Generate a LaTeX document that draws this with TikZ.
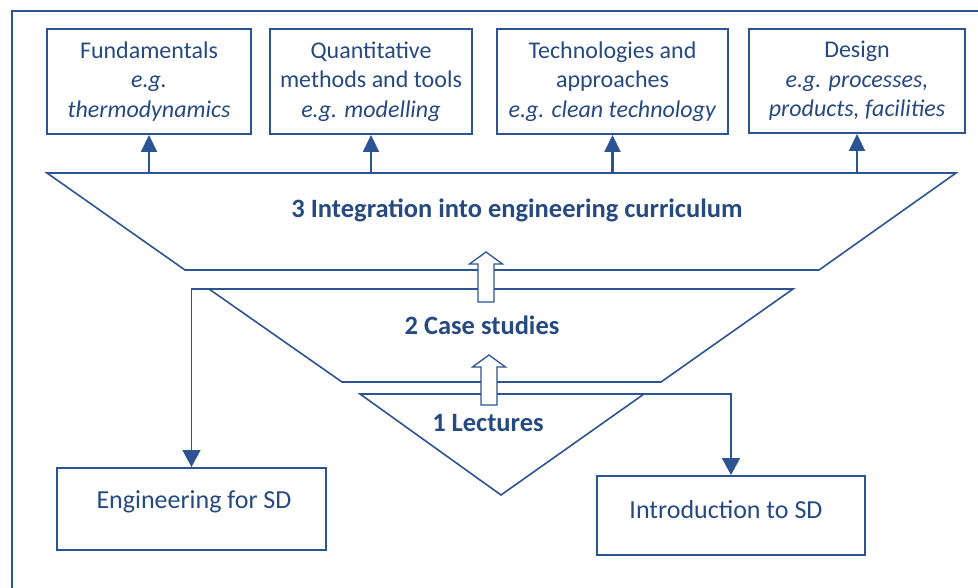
\documentclass[tikz,border=0pt]{standalone}
\usepackage{fontspec}
\setmainfont{Carlito}
\usetikzlibrary{arrows.meta}
\definecolor{sdblue}{RGB}{44,84,146}
\definecolor{sdtext}{RGB}{38,74,128}
\begin{document}
\begin{tikzpicture}
[x=1pt,y=-1pt,
  topbox/.style={shape=rectangle,draw=sdblue,line width=2pt,inner sep=0pt,align=center,
    text=sdtext,font=\fontsize{24}{29.5}\selectfont},
  lowbox/.style={shape=rectangle,draw=sdblue,line width=2pt,inner sep=0pt,
    text=sdtext,font=\fontsize{26}{30}\selectfont},
  stage/.style={text=sdtext,font=\fontsize{26.5}{30}\selectfont\bfseries,inner sep=0pt},
  outline/.style={draw=sdblue,line width=1.6pt,line join=miter},
  blockarrow/.style={draw=sdblue,fill=white,line width=1.3pt},
  uparrow/.style={-{Triangle[width=16pt,length=17pt]},draw=sdblue,line width=2.2pt},
  downarrow/.style={-{Triangle[width=18pt,length=17pt]},draw=sdblue,line width=1.6pt}]
\useasboundingbox (0,0) rectangle (978,588);
% frame
\draw[outline,line width=2pt] (12,588) -- (12,11) -- (978,11);
% stages
\draw[outline] (47,173) -- (956,173) -- (819,270) -- (185,270) -- cycle;
\draw[outline] (209,289) -- (793,289) -- (661,382) -- (342,382) -- cycle;
\draw[outline] (360,394) -- (644,394) -- (501,495) -- cycle;
\coordinate (top3) at (0,173);
\coordinate (corner2) at (209,289);
\coordinate (corner1) at (644,394);
% boxes
\node (fund) at (149,81.5) [topbox,minimum width=204,minimum height=105]
  {Fundamentals\\ \textit{e.g.}\\ \textit{thermodynamics}};
\node (quant) at (371,81.5) [topbox,minimum width=202,minimum height=105]
  {Quantitative\\ methods and tools\\ \textit{e.g. modelling}};
\node (tech) at (612.5,81.5) [topbox,minimum width=231,minimum height=105]
  {Technologies and\\ approaches\\ \textit{e.g. clean technology}};
\node (design) at (857,81) [topbox,minimum width=216,minimum height=104]
  {Design\\ \textit{e.g. processes,}\\ \textit{products, facilities}};
\node (eng) at (191.5,509) [lowbox,minimum width=269,minimum height=82] {};
\node [lowbox,draw=none] at (194,502) {Engineering for SD};
\node (intro) at (731,515.5) [lowbox,minimum width=268,minimum height=79] {};
\node [lowbox,draw=none] at (726,510) {Introduction to SD};
% edges or lines
\foreach \b in {fund,quant,tech,design}
  \draw[uparrow] (\b.south |- top3) -- (\b.south);
\draw[downarrow] (corner2) -| (eng.north);
\draw[downarrow] (corner1) -| (intro.north);
% hollow arrows
\foreach \x/\t in {486/252,489/355}
  \draw[blockarrow] (\x-8,\t+50) -- (\x-8,\t+12) -- (\x-16.5,\t+12) -- (\x,\t)
    -- (\x+16.5,\t+12) -- (\x+8,\t+12) -- (\x+8,\t+50) -- cycle;
% labels
\node (lab3) at (517,210) [stage] {3 Integration into engineering curriculum};
\node (lab2) at (482,325) [stage] {2 Case studies};
\node (lab1) at (488,423) [stage] {1 Lectures};
\end{tikzpicture}
\end{document}
